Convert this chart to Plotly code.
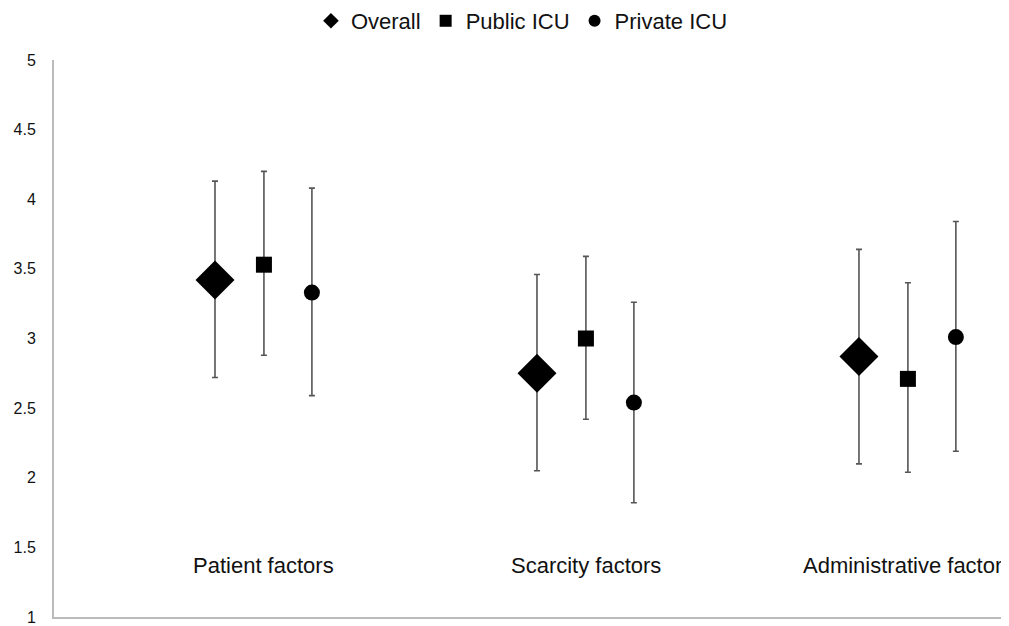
import plotly.graph_objects as go

categories = ["Patient factors", "Scarcity factors", "Administrative factors"]
series_names = ["Overall", "Public ICU", "Private ICU"]
means = {
    "Overall": [3.42, 2.75, 2.87],
    "Public ICU": [3.53, 3.00, 2.71],
    "Private ICU": [3.33, 2.54, 3.01],
}
upper = {
    "Overall": [4.13, 3.46, 3.64],
    "Public ICU": [4.20, 3.59, 3.40],
    "Private ICU": [4.08, 3.26, 3.84],
}
lower = {
    "Overall": [2.72, 2.05, 2.10],
    "Public ICU": [2.88, 2.42, 2.04],
    "Private ICU": [2.59, 1.82, 2.19],
}
offsets = [-0.152, 0.0, 0.149]
symbols = ["diamond", "square", "circle"]
sizes = [30, 16, 16]
y_ticks = [1, 1.5, 2, 2.5, 3, 3.5, 4, 4.5, 5]

fig = go.Figure()
for name, off, sym, sz in zip(series_names, offsets, symbols, sizes):
    xs = [i + off for i in range(len(categories))]
    m = means[name]
    fig.add_trace(go.Scatter(
        x=xs, y=m, mode="markers", name=name,
        marker=dict(symbol=sym, size=sz, color="black", line=dict(width=0)),
        error_y=dict(type="data", symmetric=False,
                     array=[u - v for u, v in zip(upper[name], m)],
                     arrayminus=[v - l for v, l in zip(m, lower[name])],
                     color="#555555", thickness=1.6, width=3),
    ))

for i, c in enumerate(categories):
    fig.add_annotation(x=i, y=1.37, text=c, showarrow=False,
                       font=dict(size=22, color="#111111"), xref="x", yref="y")

# page body has an 8px margin; figure is sized/offset to compensate
fig.update_layout(
    width=1001, height=618,
    margin=dict(l=46, r=0, t=52, b=6),
    paper_bgcolor="white", plot_bgcolor="white",
    font=dict(family="Liberation Sans, Arial, sans-serif", color="#111111"),
    showlegend=True,
    legend=dict(orientation="h", x=0.49, xanchor="center", y=0.979, yref="container",
                yanchor="middle", font=dict(size=22), itemsizing="constant",
                traceorder="normal", itemwidth=30, tracegroupgap=0),
    xaxis=dict(range=[-0.652, 2.314], showgrid=False, zeroline=False,
               showticklabels=False, showline=True, linecolor="#bbbbbb", linewidth=2),
    yaxis=dict(range=[1, 5], tickvals=y_ticks, ticktext=[f"{v:g}" for v in y_ticks],
               showgrid=False, zeroline=False, showline=True,
               linecolor="#bbbbbb", linewidth=2, ticks="", ticklabelstandoff=13,
               ticklabeloverflow="allow",
               tickfont=dict(size=16, color="#111111")),
)
fig.write_html("out.html")
